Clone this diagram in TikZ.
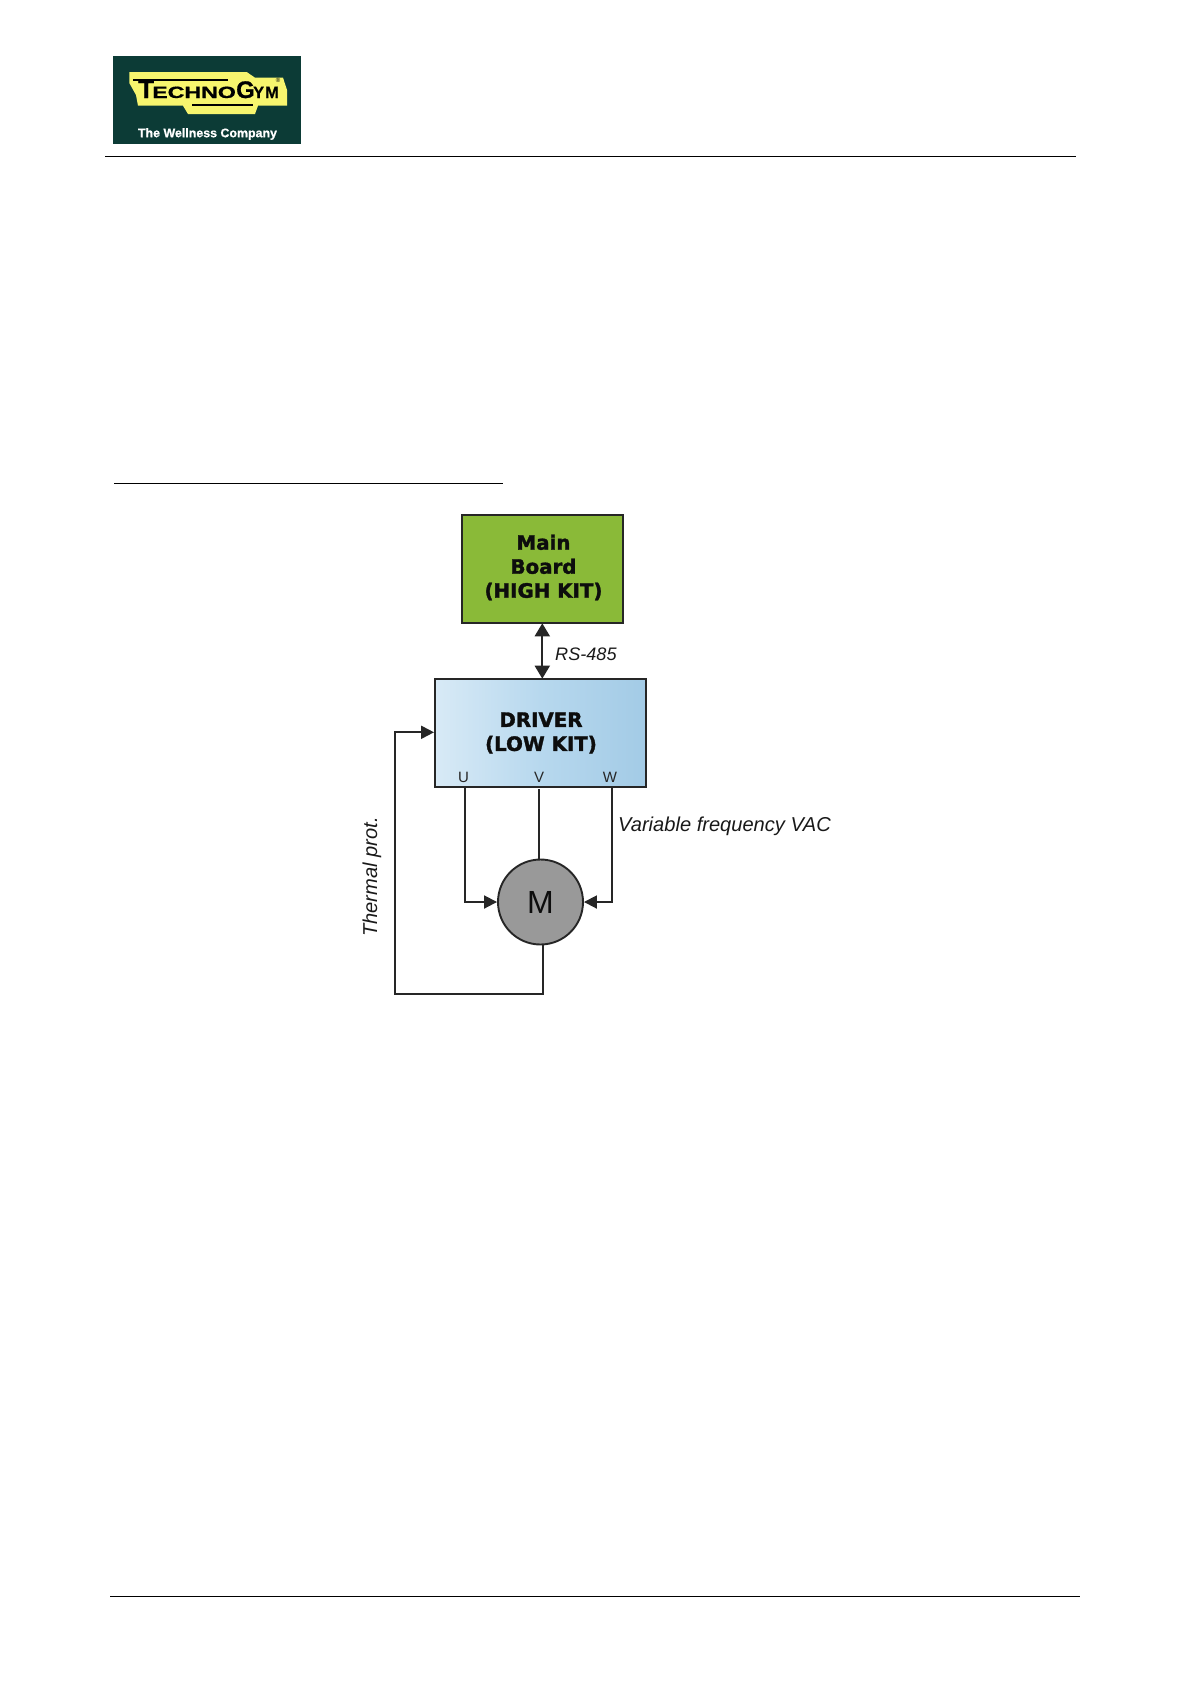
\documentclass[tikz,border=0pt]{standalone}
\usepackage{fontspec}
\setmainfont{Liberation Sans}
\newfontfamily\boxfont[FakeBold=1.6]{DejaVu Sans Bold}
\newfontfamily\logofont[FakeBold=0.8]{Liberation Sans Bold}
\usetikzlibrary{arrows.meta,calc}
\tikzset{
  x=1pt,y=-1pt,
  rule/.style={draw=black,line width=1pt},
  wire/.style={draw=black!85,line width=1.9pt},
  tip/.style={-{Triangle[length=13pt,width=13pt]}},
  tiptwo/.style={{Triangle[length=13pt,width=15pt]}-{Triangle[length=13pt,width=15pt]}},
  blockbox/.style={draw=black!85,line width=1.8pt,align=center,inner sep=0pt,font=\boxfont\fontsize{19.8}{24}\selectfont,text=black!95},
  lab/.style={font=\itshape\fontsize{20.1}{23}\selectfont,text=black!90,inner sep=0pt},
  phase/.style={font=\fontsize{15}{18}\selectfont,text=black!85,inner sep=0pt},
  logotext/.style={inner sep=0pt,anchor=base west,text=black,font=\logofont},
}
\definecolor{logogreen}{HTML}{0C3B36}
\definecolor{logoyellow}{HTML}{F7F56E}
\definecolor{mainfill}{HTML}{8ABA38}
\definecolor{drvleft}{HTML}{D8EAF6}
\definecolor{drvmid}{HTML}{B7D8EE}
\definecolor{drvright}{HTML}{A3CBE6}
\begin{document}
\begin{tikzpicture}
\useasboundingbox (0,0) rectangle (1191,1684);
% logo
\fill[logogreen] (113.3,56) rectangle (301,144);
\fill[logoyellow] (129.3,72) -- (246.7,72) -- (255,77.7) -- (283,77.7) -- (287,90) -- (287,105.7) -- (258,105.7) -- (255,114) -- (188,114) -- (183,105.7) -- (138,105.7) -- (136,95) -- (129.3,83) -- cycle;
\draw[black,line width=2pt] (133,79.5) -- (228,79.5);
\draw[black,line width=2pt] (192,105) -- (253,105);
\node[logotext] (logoT) at (138,98) {\fontsize{26}{28}\selectfont T};
\node[logotext,xscale=1.42,transform shape] (logoA) at (152,98) {\fontsize{16.3}{20}\selectfont ECHNO};
\node[logotext] (logoG) at (236,98) {\fontsize{24}{26}\selectfont G};
\node[logotext] (logoY) at (253,98) {\fontsize{16.3}{20}\selectfont Y};
\node[logotext] (logoM) at (265,98) {\fontsize{16.3}{20}\selectfont M};
\node[inner sep=0pt,text=black] (logoR) at (278,80) {\fontsize{6}{6}\selectfont ®};
\node[inner sep=0pt,text=white] (logoS) at (207.5,134) {\logofont\fontsize{12.4}{14}\selectfont The Wellness Company};
% page rules
\draw[rule] (105,156.3) -- (1076,156.3);
\draw[rule] (114,483.3) -- (503,483.3);
\draw[rule] (110,1596.3) -- (1080,1596.3);
% blocks
\node[blockbox,fill=mainfill,minimum width=161pt,minimum height=108.6pt] (main) at (542.7,569) {};
\node[inner sep=0pt,align=center,font=\boxfont\fontsize{19.8}{24}\selectfont,text=black!95] (maintext) at (543.5,567.5) {Main\\Board\\(HIGH KIT)};
\node[blockbox,left color=drvleft,right color=drvright,middle color=drvmid,minimum width=210.7pt,minimum height=108pt] (driver) at (540.3,732.7) {};
\node[inner sep=0pt,align=center,font=\boxfont\fontsize{19.8}{24}\selectfont,text=black!95] (drvtext) at (541,733) {DRIVER\\(LOW KIT)};
\node[circle,draw=black!85,line width=1.9pt,fill=black!40,minimum size=85pt,inner sep=0pt,font=\fontsize{32}{36}\selectfont,text=black!95] (motor) at (540.5,902) {M};
% labels
\node[phase] (lU) at (463.5,777) {U};
\node[phase] (lV) at (539,777) {V};
\node[phase] (lW) at (610,777) {W};
\node[lab,anchor=west,font=\itshape\fontsize{18.1}{23}\selectfont] (rs) at (555,654) {RS-485};
\node[lab,anchor=west] (vf) at (618,826.5) {Variable frequency VAC};
\node[lab,rotate=90] (th) at (372,877) {Thermal prot.};
% connector ends
\coordinate (cU) at (465.3,786.7);
\coordinate (cV) at (539,789);
\coordinate (cW) at (611.7,786.7);
\coordinate (cT) at (543,993.7);
% connectors
\draw[wire,tiptwo] (542.3,623.3) -- (542.3,678.7);
\draw[wire,tip] (cU) |- (motor.west);
\draw[wire] (cV) -- (cV |- motor.north);
\draw[wire,tip] (cW) |- (motor.east);
\draw[wire,tip] (motor.south -| cT) -- (cT) -| (394.7,732.3) -- (driver.west |- 0,732.3);
\end{tikzpicture}
\end{document}
